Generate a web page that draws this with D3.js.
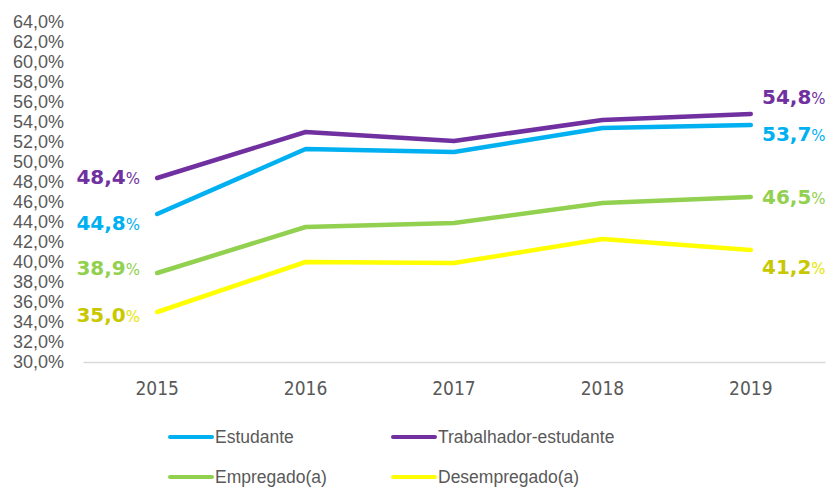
<!DOCTYPE html>
<html>
<head>
<meta charset="utf-8">
<script src="https://cdnjs.cloudflare.com/ajax/libs/d3/7.8.5/d3.min.js"></script>
<style>
  body { margin: 0; background: #fff; }
  svg { display: block; }
  .tick text { fill: #595959; font-family: "Liberation Sans", Arial, sans-serif; }
</style>
</head>
<body>
<div id="chart"></div>
<script>
// data
var years = ["2015", "2016", "2017", "2018", "2019"];
var seriesNames = ["Estudante", "Trabalhador-estudante", "Empregado(a)", "Desempregado(a)"];
var estudante = [44.8, 51.3, 51.0, 53.4, 53.7];
var trabalhadorEstudante = [48.4, 53.0, 52.1, 54.2, 54.8];
var empregado = [38.9, 43.5, 43.9, 45.9, 46.5];
var desempregado = [35.0, 40.0, 39.9, 42.3, 41.2];
var yTicks = d3.range(30, 64.1, 2);

var width = 827, height = 490;
var margin = {top: 22, right: 2, bottom: 128, left: 83};

var svg = d3.select("#chart").append("svg")
    .attr("width", width)
    .attr("height", height);

var x = d3.scaleBand()
    .domain(years)
    .range([margin.left, width - margin.right]);

var y = d3.scaleLinear()
    .domain([30, 64])
    .range([height - margin.bottom, margin.top]);

// styling per series (kept apart from the values)
var series = [
    {name: seriesNames[0], values: estudante, color: "#00B0F0", label: "#00B0F0", pct: "#00B0F0", dyStart: 10, dyEnd: 10},
    {name: seriesNames[1], values: trabalhadorEstudante, color: "#7030A0", label: "#7030A0", pct: "#7030A0", dyStart: 0, dyEnd: -16},
    {name: seriesNames[2], values: empregado, color: "#92D050", label: "#92D050", pct: "#92D050", dyStart: -4, dyEnd: 1},
    {name: seriesNames[3], values: desempregado, color: "#FFFF00", label: "#C8C800", pct: "#E6E600", dyStart: 4, dyEnd: 18}
];

// y axis (labels only)
var yAxis = d3.axisLeft(y)
    .tickValues(yTicks)
    .tickSize(0)
    .tickPadding(0)
    .tickFormat(function(d) { return d.toFixed(1).replace(".", ",") + "%"; });

var gy = svg.append("g")
    .attr("transform", "translate(64,0)")
    .call(yAxis);
gy.select(".domain").remove();
gy.selectAll("text").style("font-size", "18px");

// x axis
var xAxis = d3.axisBottom(x).tickSize(0).tickPadding(20);
var gx = svg.append("g")
    .attr("transform", "translate(0," + y(30) + ")")
    .call(xAxis);
gx.select(".domain").attr("stroke", "#D9D9D9").attr("stroke-width", 1.5);
gx.selectAll("text")
    .style("font-family", "'Liberation Sans Narrow', 'DejaVu Sans Condensed', sans-serif")
    .style("font-size", "19px");

// lines
var line = d3.line()
    .x(function(d, i) { return x(years[i]) + x.bandwidth() / 2; })
    .y(function(d) { return y(d); });

svg.selectAll(".series")
    .data(series)
    .enter().append("path")
    .attr("class", "series")
    .attr("fill", "none")
    .attr("stroke", function(d) { return d.color; })
    .attr("stroke-width", 4.5)
    .attr("stroke-linecap", "round")
    .attr("stroke-linejoin", "round")
    .attr("d", function(d) { return line(d.values); });

// value labels at start and end
function addLabel(s, idx, anchor, xPos, dy) {
    var v = s.values[idx];
    var t = svg.append("text")
        .attr("x", xPos)
        .attr("y", y(v) + dy)
        .attr("dy", "0.35em")
        .attr("text-anchor", anchor)
        .style("font-family", "'DejaVu Sans', sans-serif");
    t.append("tspan")
        .attr("fill", s.label)
        .style("font-weight", "bold")
        .style("font-size", "20px")
        .text(v.toFixed(1).replace(".", ","));
    t.append("tspan")
        .attr("fill", s.pct)
        .style("font-size", "15px")
        .text("%");
}

series.forEach(function(s) {
    addLabel(s, 0, "end", 140, s.dyStart);
    addLabel(s, years.length - 1, "start", 762, s.dyEnd);
});

// legend
var legendPos = [[170, 437], [393, 437], [170, 477], [393, 477]];
var legend = svg.selectAll(".legend")
    .data(series)
    .enter().append("g")
    .attr("class", "legend")
    .attr("transform", function(d, i) { return "translate(" + legendPos[i][0] + "," + legendPos[i][1] + ")"; });

legend.append("line")
    .attr("x1", 0).attr("x2", 42)
    .attr("stroke", function(d) { return d.color; })
    .attr("stroke-width", 4)
    .attr("stroke-linecap", "round");

legend.append("text")
    .attr("x", 45)
    .attr("dy", "0.35em")
    .attr("fill", "#595959")
    .style("font-family", "'Liberation Sans', Arial, sans-serif")
    .style("font-size", "17.5px")
    .text(function(d) { return d.name; });
</script>
</body>
</html>
